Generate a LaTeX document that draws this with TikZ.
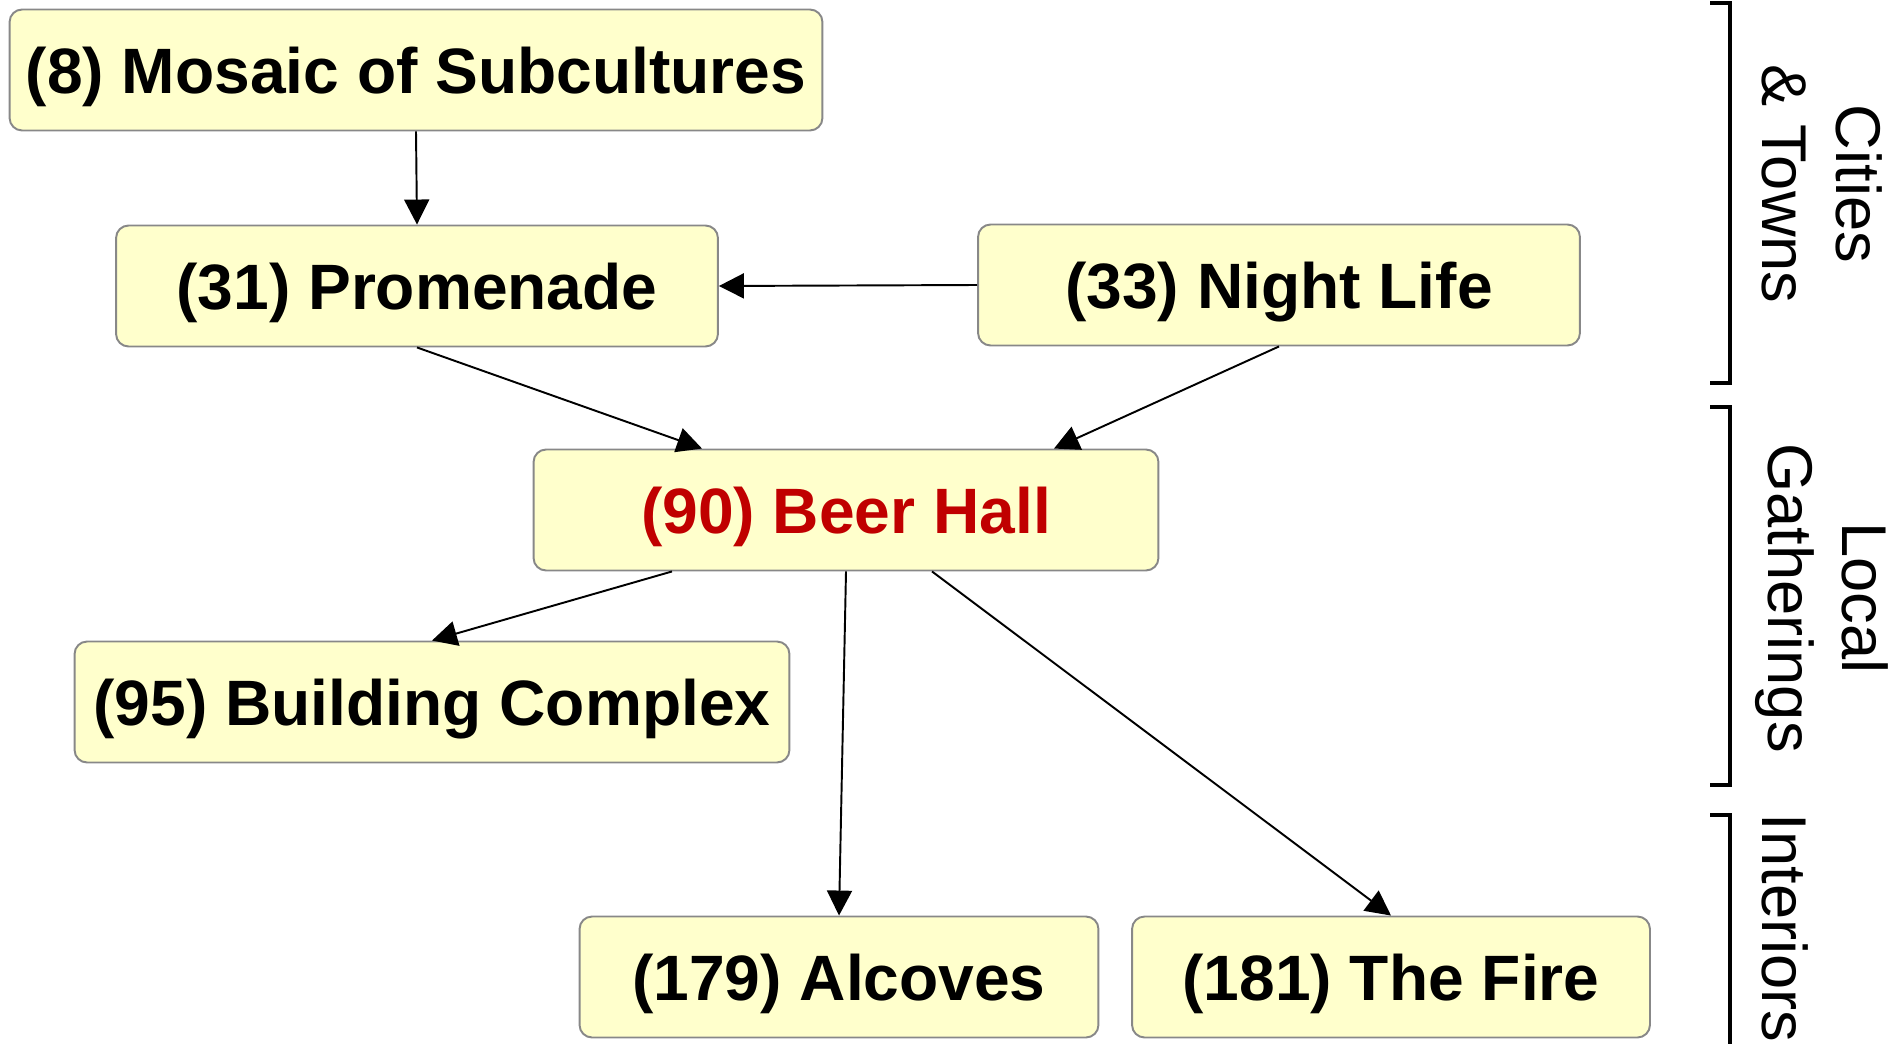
\documentclass[tikz,border=0pt]{standalone}
\usepackage{fontspec}
\setmainfont{Liberation Sans}
\usetikzlibrary{arrows.meta,calc}
\definecolor{boxfill}{HTML}{FFFFCC}
\definecolor{boxline}{HTML}{888888}
\definecolor{hallred}{HTML}{C00000}

\begin{document}
\begin{tikzpicture}[x=0.02cm, y=-0.02cm,
    box/.style={draw=boxline, fill=boxfill, line width=1.1pt, rounded corners=0.25cm,
        minimum height=2.42cm, inner sep=1pt, text depth=0pt,
        font=\bfseries\fontsize{36.5}{43}\selectfont},
    arr/.style={-{Triangle[length=0.5cm,width=0.5cm]}, line width=1.1pt},
    brace/.style={line width=2.6pt},
    side/.style={rotate=-90, align=center, font=\fontsize{36}{42}\selectfont}]
    \useasboundingbox (0,0) rectangle (1889,1044);

    \node[box, minimum width=16.26cm] (mosaic) at (416,70) {(8) Mosaic of Subcultures};
    \node[box, minimum width=12.04cm] (prom) at (417,286) {(31) Promenade};
    \node[box, minimum width=12.04cm] (night) at (1279,285) {(33) Night Life};
    \node[box, minimum width=12.5cm, text=hallred] (beer) at (846,510) {(90) Beer Hall};
    \node[box, minimum width=14.3cm] (building) at (432,702) {(95) Building Complex};
    \node[box, minimum width=10.38cm] (alcoves) at (839,977) {(179) Alcoves};
    \node[box, minimum width=10.36cm] (fire) at (1391,977) {(181) The Fire};

    \draw[arr] (mosaic.south) -- (prom.north);
    \draw[arr] (night.west) -- (prom.east);
    \draw[arr] (prom.south) -- ($(beer.north)+(-144,0)$);
    \draw[arr] (night.south) -- ($(beer.north)+(208,0)$);
    \draw[arr] ($(beer.south)+(-174,0)$) -- (building.north);
    \draw[arr] (beer.south) -- (alcoves.north);
    \draw[arr] ($(beer.south)+(86,0)$) -- (fire.north);

    % pattern levels
    \draw[brace] (1710,3) -- (1730,3) -- (1730,383) -- (1710,383);
    \draw[brace] (1710,407) -- (1730,407) -- (1730,785) -- (1710,785);
    \draw[brace] (1710,815) -- (1730,815) -- (1730,1050);
    \node[side] (cities) at (1822,184) {Cities\\\& Towns};
    \node[side] (local) at (1822,598) {Local\\Gatherings};
    \node[side, anchor=base] (interiors) at (1762,928) {Interiors};
\end{tikzpicture}
\end{document}
